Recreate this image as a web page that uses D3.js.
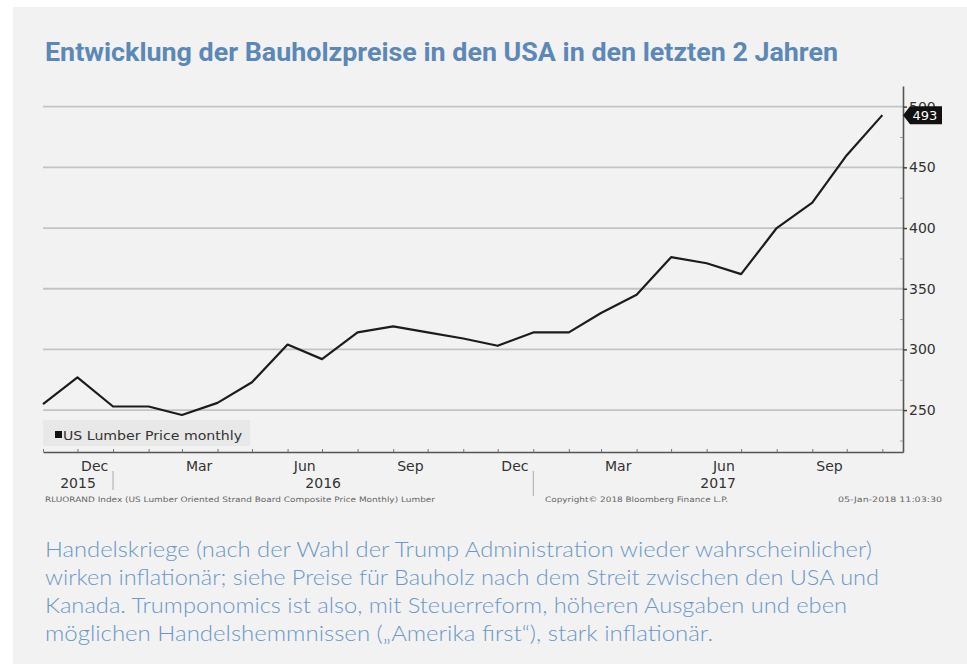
<!DOCTYPE html>
<html lang="de">
<head>
<meta charset="utf-8">
<title>Bauholzpreise USA</title>
<script src="https://d3js.org/d3.v7.min.js"></script>
<style>
  body { margin: 0; background: #ffffff; }
  svg { display: block; }
</style>
</head>
<body>
<script>
// monthly values, US lumber price
var months = ["2015-10", "2015-11", "2015-12", "2016-01", "2016-02", "2016-03", "2016-04",
              "2016-05", "2016-06", "2016-07", "2016-08", "2016-09", "2016-10", "2016-11",
              "2016-12", "2017-01", "2017-02", "2017-03", "2017-04", "2017-05", "2017-06",
              "2017-07", "2017-08", "2017-09", "2017-10"];
var prices = [255, 277, 253, 253, 246, 256, 273, 304, 292, 314, 319, 314, 309, 303,
              314, 314, 330, 345, 376, 371, 362, 400, 421, 460, 493];

var yTicks = [250, 300, 350, 400, 450, 500];
var yMinor = [225, 275, 325, 375, 425, 475];
var monthLabels = ["Dec", "Mar", "Jun", "Sep", "Dec", "Mar", "Jun", "Sep"];
var monthLabelDates = ["2015-12", "2016-03", "2016-06", "2016-09", "2016-12", "2017-03", "2017-06", "2017-09"];
var years = ["2015", "2016", "2017"];
var lastValue = "493";

var title = "Entwicklung der Bauholzpreise in den USA in den letzten 2 Jahren";
var bodyLines = [
  "Handelskriege (nach der Wahl der Trump Administration wieder wahrscheinlicher)",
  "wirken inflationär; siehe Preise für Bauholz nach dem Streit zwischen den USA und",
  "Kanada. Trumponomics ist also, mit Steuerreform, höheren Ausgaben und eben",
  "möglichen Handelshemmnissen („Amerika first“), stark inflationär."
];
var bodyWidths = [827, 834, 802, 668];

var w = 967, h = 664;
var plotLeft = 43, plotRight = 903, plotTop = 86, plotBottom = 452;

var parseMonth = d3.timeParse("%Y-%m");
var dates = months.map(function(m) { return d3.timeMonth.offset(parseMonth(m), 1); });

var svg = d3.select("body").append("svg")
  .attr("width", w)
  .attr("height", h);

// page background
svg.append("rect").attr("width", w).attr("height", h).attr("fill", "#ffffff");
svg.append("rect").attr("x", 13).attr("y", 7).attr("width", w - 13).attr("height", h - 7).attr("fill", "#f2f2f2");

// title
svg.append("text")
  .attr("x", 45)
  .attr("y", 61)
  .attr("font-family", "Roboto, 'DejaVu Sans', sans-serif")
  .attr("font-weight", "bold")
  .attr("font-size", "25px")
  .attr("fill", "#5b88b6")
  .attr("textLength", 793)
  .attr("lengthAdjust", "spacingAndGlyphs")
  .text(title);

// scales
var xScale = d3.scaleTime()
  .domain([new Date(2015, 10, 1), new Date(2017, 10, 19)])
  .range([plotLeft, plotRight]);

var yScale = d3.scaleLinear()
  .domain([215.5, 517])
  .range([plotBottom, plotTop]);

// gridlines
svg.append("g")
  .selectAll("line")
  .data(yTicks)
  .enter()
  .append("line")
  .attr("x1", plotLeft)
  .attr("x2", plotRight)
  .attr("y1", function(d) { return yScale(d); })
  .attr("y2", function(d) { return yScale(d); })
  .attr("stroke", "#c3c3c3")
  .attr("stroke-width", 1.8);

// legend
svg.append("rect")
  .attr("x", 43).attr("y", 420).attr("width", 207).attr("height", 26)
  .attr("fill", "#e8e8e8");
svg.append("rect")
  .attr("x", 55).attr("y", 431).attr("width", 7).attr("height", 7)
  .attr("fill", "#111");
svg.append("text")
  .attr("x", 63).attr("y", 440)
  .attr("font-family", "'DejaVu Sans', sans-serif")
  .attr("font-size", "13px")
  .attr("fill", "#333")
  .attr("textLength", 179)
  .attr("lengthAdjust", "spacingAndGlyphs")
  .text("US Lumber Price monthly");

// line
var line = d3.line()
  .x(function(d, i) { return xScale(dates[i]); })
  .y(function(d) { return yScale(d); });

svg.append("path")
  .datum(prices)
  .attr("d", line)
  .attr("fill", "none")
  .attr("stroke", "#1c1c1c")
  .attr("stroke-width", 2.2)
  .attr("stroke-linejoin", "round");

// x axis (month boundaries)
var xAxis = d3.axisBottom(xScale)
  .ticks(d3.timeMonth.every(1))
  .tickFormat("")
  .tickSize(-3)
  .tickSizeOuter(0);

var gx = svg.append("g")
  .attr("transform", "translate(0," + plotBottom + ")")
  .call(xAxis);
gx.select(".domain").attr("stroke", "#555").attr("stroke-width", 1.6);
gx.selectAll(".tick line").attr("stroke", "#777");

// month labels, centred in their month
svg.append("g")
  .selectAll("text")
  .data(monthLabels)
  .enter()
  .append("text")
  .attr("x", function(d, i) { return xScale(d3.timeDay.offset(parseMonth(monthLabelDates[i]), 15)); })
  .attr("y", 471)
  .attr("text-anchor", "middle")
  .attr("font-family", "'DejaVu Sans', sans-serif")
  .attr("font-size", "14px")
  .attr("fill", "#333")
  .text(function(d) { return d; });

// year labels, centred in the visible part of each year
svg.append("g")
  .selectAll("text")
  .data(years)
  .enter()
  .append("text")
  .attr("x", function(d) {
    var a = Math.max(plotLeft, xScale(new Date(+d, 0, 1)));
    var b = Math.min(plotRight, xScale(new Date(+d + 1, 0, 1)));
    return (a + b) / 2;
  })
  .attr("y", 488)
  .attr("text-anchor", "middle")
  .attr("font-family", "'DejaVu Sans', sans-serif")
  .attr("font-size", "14px")
  .attr("fill", "#333")
  .text(function(d) { return d; });

// year separators
svg.append("g")
  .selectAll("line")
  .data(["2016", "2017"])
  .enter()
  .append("line")
  .attr("x1", function(d) { return xScale(new Date(+d, 0, 1)); })
  .attr("x2", function(d) { return xScale(new Date(+d, 0, 1)); })
  .attr("y1", 471)
  .attr("y2", function(d, i) { return i == 0 ? 490 : 496; })
  .attr("stroke", "#aaa")
  .attr("stroke-width", 1);

// right axis
var yAxis = d3.axisRight(yScale)
  .tickValues(yTicks)
  .tickSize(4)
  .tickPadding(2)
  .tickSizeOuter(0);

var gy = svg.append("g")
  .attr("transform", "translate(" + plotRight + ",0)")
  .call(yAxis);
gy.select(".domain").attr("stroke", "#555").attr("stroke-width", 1.6);
gy.selectAll(".tick line").attr("stroke", "#444").attr("stroke-width", 1.5);
gy.selectAll(".tick text")
  .attr("font-family", "'DejaVu Sans', sans-serif")
  .attr("font-size", "14px")
  .attr("fill", "#333");

var yAxisMinor = d3.axisLeft(yScale)
  .tickValues(yMinor)
  .tickSize(3)
  .tickFormat("")
  .tickSizeOuter(0);
var gym = svg.append("g")
  .attr("transform", "translate(" + plotRight + ",0)")
  .call(yAxisMinor);
gym.select(".domain").remove();
gym.selectAll(".tick line").attr("stroke", "#999");

// last value tag
var ty = yScale(prices[prices.length - 1]);
svg.append("path")
  .attr("d", "M" + plotRight + "," + ty + " L" + (plotRight + 7) + "," + (ty - 9) + " L942," + (ty - 9) +
             " L942," + (ty + 9) + " L" + (plotRight + 7) + "," + (ty + 9) + " Z")
  .attr("fill", "#111");
svg.append("text")
  .attr("x", 925)
  .attr("y", ty)
  .attr("dy", "0.36em")
  .attr("text-anchor", "middle")
  .attr("font-family", "'DejaVu Sans', sans-serif")
  .attr("font-size", "13px")
  .attr("fill", "#fff")
  .text(lastValue);

// source notes
var notes = [
  { t: "RLUORAND Index (US Lumber Oriented Strand Board Composite Price Monthly) Lumber", x: 45, len: 390 },
  { t: "Copyright© 2018 Bloomberg Finance L.P.", x: 545, len: 183 },
  { t: "05-Jan-2018 11:03:30", x: 838, len: 104 }
];
svg.append("g")
  .selectAll("text")
  .data(notes)
  .enter()
  .append("text")
  .attr("x", function(d) { return d.x; })
  .attr("y", 502)
  .attr("font-family", "'DejaVu Sans', sans-serif")
  .attr("font-size", "7.5px")
  .attr("fill", "#666")
  .attr("textLength", function(d) { return d.len; })
  .attr("lengthAdjust", "spacingAndGlyphs")
  .text(function(d) { return d.t; });

// body text
svg.append("g")
  .selectAll("text")
  .data(bodyLines)
  .enter()
  .append("text")
  .attr("x", 45)
  .attr("y", function(d, i) { return 556.5 + i * 28.2; })
  .attr("font-family", "Lato, 'Open Sans', sans-serif")
  .attr("font-weight", 300)
  .attr("font-size", "21px")
  .attr("fill", "#6b98c8")
  .attr("textLength", function(d, i) { return bodyWidths[i]; })
  .attr("lengthAdjust", "spacingAndGlyphs")
  .text(function(d) { return d; });
</script>
</body>
</html>
